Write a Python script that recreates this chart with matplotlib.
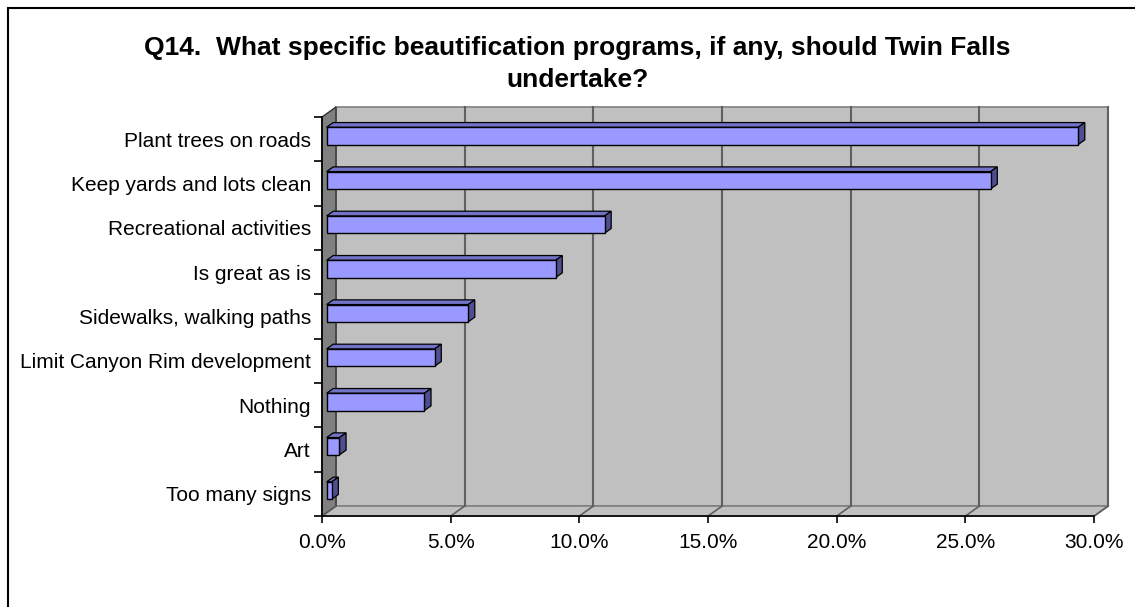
import matplotlib
matplotlib.use("Agg")
import matplotlib.pyplot as plt
from matplotlib.patches import Polygon, Rectangle
import numpy as np

# ---- data ----
categories = ["Too many signs", "Art", "Nothing", "Limit Canyon Rim development",
              "Sidewalks, walking paths", "Is great as is", "Recreational activities",
              "Keep yards and lots clean", "Plant trees on roads"]
values = [0.2, 0.5, 3.8, 4.2, 5.5, 8.9, 10.8, 25.8, 29.2]
xticks = [0, 5, 10, 15, 20, 25, 30]
xticklabels = ["0.0%", "5.0%", "10.0%", "15.0%", "20.0%", "25.0%", "30.0%"]
title = "Q14.  What specific beautification programs, if any, should Twin Falls\nundertake?"

# ---- styling / geometry ----
W, H = 1135, 607
plt.rcParams['font.family'] = ['Liberation Sans', 'DejaVu Sans']
fig = plt.figure(figsize=(W / 100, H / 100), dpi=100)
fig.patch.set_facecolor('white')

# pixel mapping of the front plane
X0PX, PXPER = 322.0, 25.74      # px at 0%, px per 1%
Y0PX, PXCAT = 516.0, 44.33      # px at bottom of front plane, px per category
L, R, T, B = 300, 1120, 90, 530
ax = fig.add_axes([L / W, 1 - B / H, (R - L) / W, (B - T) / H])
ax.set_xlim((L - X0PX) / PXPER, (R - X0PX) / PXPER)
ax.set_ylim((Y0PX - B) / PXCAT, (Y0PX - T) / PXCAT)
ax.set_facecolor('none')

n = len(categories)
xmax = 30
DX = 14.0 / PXPER     # depth offset in data units
DY = 10.0 / PXCAT

# walls
left_wall = Polygon([(0, 0), (0, n), (DX, n + DY), (DX, DY)], closed=True,
                    facecolor='#808080', edgecolor='#303030', lw=1.0, zorder=1)
back_wall = Rectangle((DX, DY), xmax, n, facecolor='#C0C0C0', edgecolor='#808080',
                      lw=1.2, zorder=0.9)
floor = Polygon([(0, 0), (xmax, 0), (xmax + DX, DY), (DX, DY)], closed=True,
                facecolor='#C0C0C0', edgecolor='#808080', lw=1.2, zorder=1)
ax.add_patch(back_wall)
ax.add_patch(floor)
ax.add_patch(left_wall)

# gridlines on back wall + floor diagonals
for xv in xticks[1:]:
    ax.plot([xv + DX, xv + DX], [DY, n + DY], color='#606060', lw=1.5, zorder=1.1)
    ax.plot([xv, xv + DX], [0, DY], color='#606060', lw=1.2, zorder=1.1)
ax.plot([0, DX], [0, DY], color='#606060', lw=1.0, zorder=1.1)

# bars
f1, f2 = 0.33, 0.8
bh = 0.39
centers = np.arange(n) + 0.5
yc = centers + f1 * DY
ax.barh(yc, values, left=f1 * DX, height=bh, color='#9999FF',
        edgecolor='black', lw=1.0, zorder=3)
ddx, ddy = (f2 - f1) * DX, (f2 - f1) * DY
for y, v in zip(yc, values):
    x0 = f1 * DX
    x1 = x0 + v
    top = Polygon([(x0, y + bh / 2), (x1, y + bh / 2), (x1 + ddx, y + bh / 2 + ddy),
                   (x0 + ddx, y + bh / 2 + ddy)], closed=True,
                  facecolor='#7272C6', edgecolor='black', lw=0.9, zorder=2.9)
    side = Polygon([(x1, y - bh / 2), (x1 + ddx, y - bh / 2 + ddy),
                    (x1 + ddx, y + bh / 2 + ddy), (x1, y + bh / 2)], closed=True,
                   facecolor='#4E4E90', edgecolor='black', lw=0.9, zorder=2.9)
    ax.add_patch(top)
    ax.add_patch(side)

# axes spines at the front plane
for s in ['top', 'right']:
    ax.spines[s].set_visible(False)
ax.spines['bottom'].set_position(('data', 0))
ax.spines['left'].set_position(('data', 0))
ax.spines['bottom'].set_bounds(0, xmax)
ax.spines['left'].set_bounds(0, n)
ax.spines['bottom'].set_zorder(4)
ax.spines['left'].set_zorder(4)
ax.spines['bottom'].set_linewidth(1.2)
ax.spines['left'].set_linewidth(1.2)

ax.set_xticks(xticks)
ax.set_xticklabels(xticklabels)
ax.tick_params(axis='x', direction='out', length=5, width=1.2, pad=7, labelsize=15)
ax.set_yticks(np.arange(n + 1))
ax.set_yticklabels([])
ax.set_yticks(centers, minor=True)
ax.set_yticklabels(categories, minor=True)
ax.tick_params(axis='y', which='major', direction='out', length=6, width=1.2)
ax.tick_params(axis='y', which='minor', length=0, pad=8, labelsize=15)

fig.text(577 / W, 1 - 64 / H, title, ha='center', va='center', fontsize=19,
         fontweight='bold', linespacing=1.45)

# chart area border
fig.patches.append(Rectangle((8 / W, -0.1), 1.2, 1 - 8 / H + 0.1,
                             transform=fig.transFigure, fill=False,
                             edgecolor='black', lw=1.5))

fig.savefig('out.png', dpi=100)
